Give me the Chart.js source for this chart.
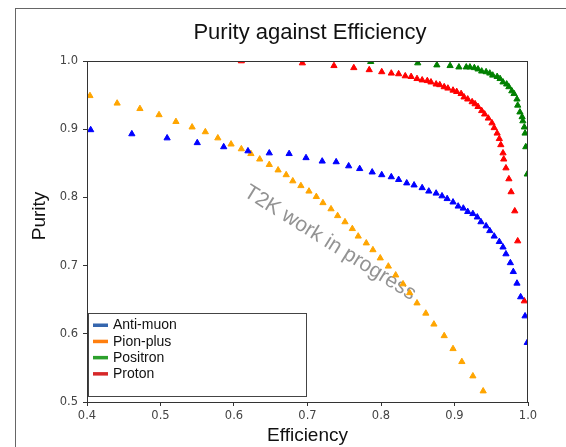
<!DOCTYPE html>
<html>
<head>
<meta charset="utf-8">
<script src="https://cdn.jsdelivr.net/npm/chart.js@4.4.0/dist/chart.umd.min.js"></script>
<style>
  html, body { margin: 0; padding: 0; background: #fff; overflow: hidden; }
  #wrap { position: relative; width: 566px; height: 447px; }
  #frame { position: absolute; left: 15px; top: 8px; width: 620px; height: 520px;
           border: 1px solid #666; pointer-events: none; }
</style>
</head>
<body>
<div id="wrap">
  <canvas id="chart" width="566" height="447"></canvas>
  <div id="frame"></div>
</div>
<script>
// tick labels
const xTicks = [0.4, 0.5, 0.6, 0.7, 0.8, 0.9, 1.0];
const yTicks = [0.5, 0.6, 0.7, 0.8, 0.9, 1.0];

const seriesNames = ['Anti-muon', 'Pion-plus', 'Positron', 'Proton'];

// Anti-muon
const antiMuonEff = [0.405, 0.461, 0.509, 0.550, 0.586, 0.619, 0.648, 0.675, 0.698, 0.720, 0.739, 0.756, 0.771, 0.788, 0.801, 0.814, 0.824, 0.835, 0.845, 0.856, 0.865, 0.875, 0.883, 0.890, 0.898, 0.905, 0.912, 0.918, 0.925, 0.931, 0.936, 0.943, 0.948, 0.954, 0.961, 0.966, 0.970, 0.976, 0.980, 0.985, 0.990, 0.996, 0.999];
const antiMuonPur = [0.899, 0.893, 0.887, 0.880, 0.874, 0.868, 0.865, 0.864, 0.858, 0.853, 0.852, 0.846, 0.842, 0.837, 0.833, 0.830, 0.826, 0.821, 0.818, 0.814, 0.809, 0.806, 0.802, 0.798, 0.793, 0.787, 0.784, 0.779, 0.776, 0.771, 0.764, 0.758, 0.751, 0.743, 0.735, 0.727, 0.717, 0.704, 0.691, 0.674, 0.654, 0.626, 0.587];

// Pion-plus
const pionPlusEff = [0.404, 0.441, 0.472, 0.498, 0.521, 0.543, 0.561, 0.578, 0.596, 0.610, 0.623, 0.635, 0.648, 0.660, 0.671, 0.680, 0.691, 0.702, 0.712, 0.721, 0.732, 0.741, 0.751, 0.761, 0.769, 0.780, 0.789, 0.799, 0.810, 0.820, 0.830, 0.839, 0.849, 0.861, 0.872, 0.886, 0.898, 0.910, 0.925, 0.939];
const pionPlusPur = [0.949, 0.938, 0.930, 0.921, 0.911, 0.903, 0.896, 0.887, 0.878, 0.871, 0.864, 0.856, 0.848, 0.840, 0.833, 0.824, 0.817, 0.809, 0.801, 0.792, 0.783, 0.773, 0.764, 0.754, 0.743, 0.733, 0.723, 0.711, 0.699, 0.686, 0.673, 0.660, 0.645, 0.630, 0.614, 0.597, 0.578, 0.559, 0.538, 0.516];

// Positron
const positronEff = [0.786, 0.850, 0.876, 0.894, 0.906, 0.916, 0.921, 0.927, 0.932, 0.937, 0.943, 0.948, 0.952, 0.958, 0.962, 0.966, 0.971, 0.974, 0.978, 0.981, 0.985, 0.986, 0.989, 0.992, 0.993, 0.995, 0.996, 0.997, 0.999];
const positronPur = [0.999, 0.997, 0.994, 0.993, 0.991, 0.991, 0.991, 0.990, 0.988, 0.985, 0.984, 0.982, 0.979, 0.977, 0.974, 0.969, 0.966, 0.962, 0.956, 0.952, 0.944, 0.935, 0.925, 0.918, 0.912, 0.903, 0.894, 0.874, 0.834];

// Proton
const protonEff = [0.610, 0.693, 0.736, 0.763, 0.784, 0.801, 0.814, 0.824, 0.833, 0.841, 0.849, 0.856, 0.863, 0.868, 0.875, 0.880, 0.886, 0.891, 0.898, 0.903, 0.909, 0.913, 0.918, 0.924, 0.928, 0.932, 0.937, 0.941, 0.946, 0.951, 0.954, 0.958, 0.961, 0.963, 0.966, 0.967, 0.970, 0.974, 0.977, 0.982, 0.986, 0.995];
const protonPur = [1.000, 0.997, 0.993, 0.990, 0.987, 0.984, 0.982, 0.981, 0.978, 0.977, 0.974, 0.972, 0.971, 0.969, 0.966, 0.965, 0.962, 0.960, 0.957, 0.955, 0.952, 0.947, 0.944, 0.940, 0.937, 0.933, 0.927, 0.922, 0.916, 0.909, 0.902, 0.894, 0.886, 0.877, 0.865, 0.856, 0.843, 0.827, 0.808, 0.780, 0.736, 0.648];

const markerColors = ['#0000ff', '#ffa500', '#008000', '#ff0000'];
const legendColors = ['#3566ae', '#ff7f0e', '#2ca02c', '#d62728'];

function pairs(xs, ys) {
  return xs.map((x, i) => ({ x: x, y: ys[i] }));
}

const allSeries = [
  pairs(antiMuonEff, antiMuonPur),
  pairs(pionPlusEff, pionPlusPur),
  pairs(positronEff, positronPur),
  pairs(protonEff, protonPur)
];

const tickFont = { family: 'DejaVu Sans', size: 11.5 };

// frame, titles, watermark and legend drawn onto the canvas
const decorations = {
  id: 'decorations',
  beforeDatasetsDraw(chart) {
    const ctx = chart.ctx;
    ctx.save();
    ctx.translate(330, 243);
    ctx.rotate(32 * Math.PI / 180);
    ctx.font = '21px "Liberation Sans"';
    ctx.fillStyle = 'rgba(120,120,120,0.8)';
    ctx.textAlign = 'center';
    ctx.textBaseline = 'middle';
    ctx.fillText('T2K work in progress', 0, 0);
    ctx.restore();
  },
  afterDatasetsDraw(chart) {
    const ctx = chart.ctx;
    const a = chart.chartArea;
    ctx.save();
    ctx.strokeStyle = '#333';
    ctx.lineWidth = 1;
    ctx.strokeRect(a.left + 0.5, a.top + 0.5, a.right - a.left - 1, a.bottom - a.top);

    ctx.font = '22px "Liberation Sans"';
    ctx.fillStyle = '#111';
    ctx.textAlign = 'center';
    ctx.textBaseline = 'middle';
    ctx.fillText('Purity against Efficiency', 310, 33);

    ctx.save();
    ctx.translate(40, 216);
    ctx.rotate(-Math.PI / 2);
    ctx.font = '19px "Liberation Sans"';
    ctx.fillText('Purity', 0, 0);
    ctx.restore();

    // legend
    ctx.fillStyle = '#fff';
    ctx.fillRect(88, 313, 218, 83);
    ctx.strokeStyle = '#444';
    ctx.strokeRect(88.5, 313.5, 218, 83);
    ctx.font = '14px "Liberation Sans"';
    ctx.textAlign = 'left';
    chart.data.datasets.forEach((ds, i) => {
      const y = 325 + i * 16.2;
      ctx.fillStyle = legendColors[i];
      ctx.fillRect(93, y - 1.5, 15, 3.5);
      ctx.fillStyle = '#111';
      ctx.fillText(ds.label, 113, y + 0.5);
    });
    ctx.restore();
  }
};

new Chart(document.getElementById('chart'), {
  type: 'scatter',
  data: {
    datasets: allSeries.map((pts, i) => ({
      label: seriesNames[i],
      data: pts,
      pointStyle: 'triangle',
      pointRadius: 3.6,
      pointBorderWidth: 1,
      backgroundColor: markerColors[i],
      borderColor: markerColors[i],
      clip: 0
    }))
  },
  options: {
    responsive: false,
    animation: false,
    layout: { padding: { top: 61, right: 38, left: 0, bottom: 0 } },
    plugins: {
      legend: { display: false },
      title: { display: false },
      tooltip: { enabled: false }
    },
    scales: {
      x: {
        type: 'linear',
        min: 0.4,
        max: 1.0,
        afterBuildTicks(s) { s.ticks = xTicks.map(v => ({ value: v })); },
        afterFit(s) { s.height = 45; },
        grid: { drawOnChartArea: false, drawTicks: true, tickLength: 4, color: '#333' },
        border: { display: false },
        ticks: { font: tickFont, color: '#444', padding: 3, maxRotation: 0,
                 callback: v => Number(v).toFixed(1) },
        title: { display: true, text: 'Efficiency', color: '#111',
                 font: { family: 'Liberation Sans', size: 19 }, padding: { top: 0, bottom: 0 } }
      },
      y: {
        type: 'linear',
        min: 0.5,
        max: 1.0,
        afterBuildTicks(s) { s.ticks = yTicks.map(v => ({ value: v })); },
        afterFit(s) { s.width = 87; },
        grid: { drawOnChartArea: false, drawTicks: true, tickLength: 4, color: '#333' },
        border: { display: false },
        ticks: { font: tickFont, color: '#444', padding: 5,
                 callback: v => Number(v).toFixed(1) },
        title: { display: false, text: 'Purity' }
      }
    }
  },
  plugins: [decorations]
});
</script>
</body>
</html>
